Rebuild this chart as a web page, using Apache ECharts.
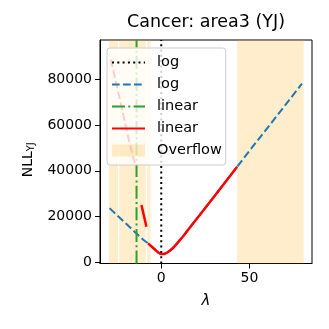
<!DOCTYPE html>
<html>
<head>
<meta charset="utf-8">
<script src="https://cdn.jsdelivr.net/npm/echarts@6.0.0/dist/echarts.min.js"></script>
<style>
  html, body { margin: 0; padding: 0; background: #fff; }
  #chart { width: 329px; height: 329px; }
</style>
</head>
<body>
<div id="chart"></div>
<script>
// NLL curve, log transform (blue dashed)
var logX = [-29.3, -25, -20, -15, -12.2, -10, -7.5, -5, -3, -1.5, 0, 1.5, 3, 5, 6.7, 9, 12.3, 18, 21.8, 30, 43, 50, 60, 70, 79.7];
var logY = [23700, 20600, 17000, 13300, 11300, 9800, 8300, 6600, 5200, 4200, 3600, 3600, 4100, 5200, 6300, 8300, 11300, 17000, 20700, 28800, 41800, 48800, 58600, 68500, 78100];
// NLL curve, linear transform (red solid)
var linX = [-7.5, -5, -3, -1.5, 0, 1.5, 3, 5, 6.7, 9, 12.3, 18, 21.8, 30, 43];
var linY = [8300, 6600, 5200, 4200, 3600, 3600, 4100, 5200, 6300, 8300, 11300, 17000, 20700, 28800, 41800];
var linShortX = [-11.2, -8.4];
var linShortY = [25100, 15600];
// faint part, only visible through the legend box
var linFaintX = [-28.6, -24.5, -18.0, -15.0];
var linFaintY = [88700, 74900, 52300, 43400];
// optimal lambdas
var logLambda = 0;
var linLambda = -14;
// overflow regions on lambda
var overflowBands = [[-29.7, -24.5], [-23.8, -8.8], [-7.9, -6.1], [43.0, 80.7]];
var xTicks = [0, 50];
var yTicks = [0, 20000, 40000, 60000, 80000];
var xMin = -34.7, xMax = 85.4, yMin = -500, yMax = 97200;

var legendLabels = { logLine: "log", logCurve: "log", linLine: "linear", linCurve: "linear", overflow: "Overflow" };
var font = "DejaVu Sans";

function pairs(xs, ys) {
  var out = [];
  for (var i = 0; i < xs.length; i++) out.push([xs[i], ys[i]]);
  return out;
}

var myChart = echarts.init(document.getElementById("chart"));
var noMarker = { opacity: 0 };
var option = {
  animation: false,
  title: {
    text: "Cancer: area3 (YJ)",
    left: 206,
    top: 13,
    textAlign: "center",
    padding: 0,
    textStyle: { fontFamily: font, fontSize: 17.5, fontWeight: "normal", color: "#000" }
  },
  grid: {
    left: 100, top: 40, right: 17, bottom: 65.5,
    show: true, borderColor: "#000", borderWidth: 1
  },
  legend: {
    orient: "vertical",
    left: 107, top: 48,
    z: 10,
    data: [
      { name: "logLine", itemStyle: noMarker },
      { name: "logCurve", itemStyle: noMarker },
      { name: "linLine", itemStyle: noMarker },
      { name: "linCurve", itemStyle: noMarker },
      { name: "overflow", icon: "rect" }
    ],
    formatter: function (n) { return legendLabels[n]; },
    itemWidth: 33, itemHeight: 12, itemGap: 7,
    textStyle: { fontFamily: font, fontSize: 14.5, color: "#000", lineHeight: 14, padding: [0, 0, 0, 7] },
    backgroundColor: "rgba(255,255,255,0.8)",
    borderColor: "#cccccc", borderWidth: 1, borderRadius: 3,
    padding: [7, 4, 7, 4]
  },
  xAxis: {
    type: "value", min: xMin, max: xMax,
    name: "λ", nameLocation: "middle", nameGap: 30,
    nameTextStyle: { fontFamily: font, fontSize: 15, fontStyle: "italic", color: "#000" },
    axisLine: { onZero: false, lineStyle: { color: "#000", width: 1 } },
    axisTick: { show: true, length: 5, customValues: xTicks, lineStyle: { color: "#000" } },
    axisLabel: { customValues: xTicks, color: "#000", fontFamily: font, fontSize: 14, margin: 8 },
    splitLine: { show: false }
  },
  yAxis: {
    type: "value", min: yMin, max: yMax,
    name: "NLL{sub|YJ}", nameLocation: "middle", nameGap: 64,
    nameTextStyle: {
      fontFamily: font, fontSize: 14, color: "#000", lineHeight: 16,
      padding: [0, 16, 0, 0],
      rich: { sub: { fontFamily: font, fontSize: 10, color: "#000", lineHeight: 16, padding: [6, 0, 0, 0], verticalAlign: "bottom" } }
    },
    axisLine: { show: true, onZero: false, lineStyle: { color: "#000", width: 1 } },
    axisTick: { show: true, length: 5, customValues: yTicks, lineStyle: { color: "#000" } },
    axisLabel: {
      customValues: yTicks, color: "#000", fontFamily: font, fontSize: 14, margin: 8,
      formatter: function (v) { return String(v); }
    },
    splitLine: { show: false }
  },
  series: [
    {
      name: "overflow", type: "line", data: [], z: 1,
      color: "rgba(255,165,0,0.2)",
      markArea: {
        silent: true,
        itemStyle: { color: "rgba(255,165,0,0.2)" },
        data: overflowBands.map(function (b) { return [{ xAxis: b[0] }, { xAxis: b[1] }]; })
      }
    },
    {
      name: "linFaint", type: "line", symbol: "none", z: 2,
      data: pairs(linFaintX, linFaintY),
      lineStyle: { color: "red", width: 2, type: [7.7, 3.3] }
    },
    {
      name: "logCurve", type: "line", symbol: "none", z: 2,
      data: pairs(logX, logY),
      color: "#1f77b4",
      lineStyle: { color: "#1f77b4", width: 2, type: [7.7, 3.3] }
    },
    {
      name: "linLine", type: "line", symbol: "none", z: 2,
      data: [[linLambda, yMin], [linLambda, yMax]],
      color: "#2ca02c",
      lineStyle: { color: "#2ca02c", width: 2, type: [13, 3.3, 2, 3.3] }
    },
    {
      name: "linCurve", type: "line", symbol: "none", z: 3,
      data: pairs(linX, linY),
      color: "red",
      lineStyle: { color: "red", width: 2.5 }
    },
    {
      name: "linShort", type: "line", symbol: "none", z: 3,
      data: pairs(linShortX, linShortY),
      lineStyle: { color: "red", width: 2.5 }
    },
    {
      name: "logLine", type: "line", symbol: "none", z: 3,
      data: [[logLambda, yMin], [logLambda, yMax]],
      color: "#000",
      lineStyle: { color: "#000", width: 2, type: [2, 3.3] }
    }
  ]
};
myChart.setOption(option);
</script>
</body>
</html>
